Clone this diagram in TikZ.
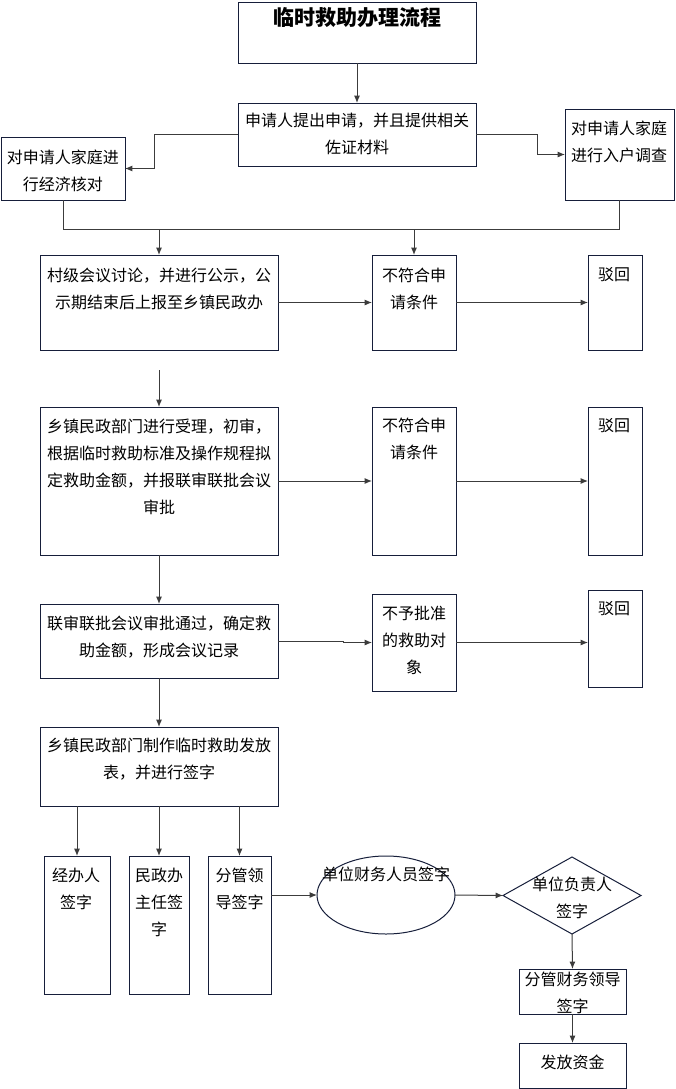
\documentclass[tikz,border=0pt]{standalone}
\usepackage{xcolor}
\usepackage{fontspec}
\usepackage{tikz}
\usetikzlibrary{shapes.geometric,arrows.meta}
\newfontfamily\cjk{Noto Sans CJK SC}
\definecolor{boxline}{RGB}{22,30,58}
\definecolor{arrline}{RGB}{60,60,60}

\begin{document}
\begin{tikzpicture}[x=0.75pt,y=-0.75pt,
    box/.style={draw=boxline,line width=0.75pt,inner sep=0pt,outer sep=0pt},
    txt/.style={font=\cjk\fontsize{12pt}{20.25pt}\selectfont,align=center,inner sep=0pt,text=black},
    arr/.style={draw=arrline,line width=0.75pt,-{Latex[length=5.5pt,width=4.5pt]}},
    ln/.style={draw=arrline,line width=0.75pt}]
    \useasboundingbox (0,0) rectangle (675,1089);

    % boxes
    \node[box,minimum width=178.5pt,minimum height=45.75pt] (title) at (357,32.5) {};
    \node[box,minimum width=178.5pt,minimum height=47.25pt] (apply) at (357,134.5) {};
    \node[box,minimum width=93pt,minimum height=47.25pt] (econ) at (63,168.5) {};
    \node[box,minimum width=81.75pt,minimum height=68.25pt] (survey) at (619.5,154.5) {};

    \node[box,minimum width=178.5pt,minimum height=71.25pt] (vill) at (159,302.5) {};
    \node[box,minimum width=63pt,minimum height=71.25pt] (nq1) at (414,302.5) {};
    \node[box,minimum width=40.5pt,minimum height=71.25pt] (rej1) at (615,302.5) {};

    \node[box,minimum width=178.5pt,minimum height=111pt] (town) at (159,481) {};
    \node[box,minimum width=63pt,minimum height=111pt] (nq2) at (414,481) {};
    \node[box,minimum width=40.5pt,minimum height=111pt] (rej2) at (615,481) {};

    \node[box,minimum width=178.5pt,minimum height=55.5pt] (joint) at (159,641) {};
    \node[box,minimum width=63pt,minimum height=72.75pt] (nap) at (414,642.5) {};
    \node[box,minimum width=40.5pt,minimum height=72.75pt] (rej3) at (615,638.5) {};

    \node[box,minimum width=178.5pt,minimum height=59.25pt] (make) at (159,766.5) {};
    \node[box,minimum width=49.5pt,minimum height=103.5pt] (sign1) at (77,925) {};
    \node[box,minimum width=45pt,minimum height=103.5pt] (sign2) at (159,925) {};
    \node[box,minimum width=47.25pt,minimum height=103.5pt] (sign3) at (239.5,925) {};
    \node[box,shape=ellipse,minimum width=103.5pt,minimum height=58.5pt] (fin) at (386,895) {};
    \node[box,shape=diamond,minimum width=103.5pt,minimum height=57.75pt] (head) at (572,895.5) {};
    \node[box,minimum width=80.25pt,minimum height=33.75pt] (finlead) at (572.5,991.5) {};
    \node[box,minimum width=80.25pt,minimum height=33.75pt] (fund) at (572.5,1065.5) {};

    % texts
    \node[txt,font=\cjk\bfseries\fontsize{15.75pt}{18pt}\selectfont] (title-t) at (357,18) {临时救助办理流程};
    \node[txt] (apply-t) at (357,134) {申请人提出申请，并且提供相关\\佐证材料};
    \node[txt] (econ-t) at (63,170.5) {对申请人家庭进\\行经济核对};
    \node[txt] (survey-t) at (619,141.5) {对申请人家庭\\进行入户调查};
    \node[txt] (vill-t) at (159,288.5) {村级会议讨论，并进行公示，公\\示期结束后上报至乡镇民政办};
    \node[txt] (nq1-t) at (414,288.5) {不符合申\\请条件};
    \node[txt] (rej1-t) at (614,275) {驳回};
    \node[txt] (town-t) at (159,466.5) {乡镇民政部门进行受理，初审，\\根据临时救助标准及操作规程拟\\定救助金额，并报联审联批会议\\审批};
    \node[txt] (nq2-t) at (414,439) {不符合申\\请条件};
    \node[txt] (rej2-t) at (614,426) {驳回};
    \node[txt] (joint-t) at (159,637) {联审联批会议审批通过，确定救\\助金额，形成会议记录};
    \node[txt] (nap-t) at (414,640) {不予批准\\的救助对\\象};
    \node[txt] (rej3-t) at (614,609) {驳回};
    \node[txt] (make-t) at (159,759.5) {乡镇民政部门制作临时救助发放\\表，并进行签字};
    \node[txt] (sign1-t) at (76,888.5) {经办人\\签字};
    \node[txt] (sign2-t) at (159,902) {民政办\\主任签\\字};
    \node[txt] (sign3-t) at (239.5,888.5) {分管领\\导签字};
    \node[txt] (fin-t) at (386,874) {单位财务人员签字};
    \node[txt] (head-t) at (572,898) {单位负责人\\签字};
    \node[txt] (finlead-t) at (572.5,992.5) {分管财务领导\\签字};
    \node[txt] (fund-t) at (572.5,1062) {发放资金};

    % connectors
    \coordinate (busL) at (63,229);
    \coordinate (busR) at (619.5,229);
    \coordinate (vgap) at (159,370);

    \draw[arr] (title) -- (apply);
    \draw[arr] (apply.west) -- ++(-84,0) |- (econ.east);
    \draw[arr] (apply.east) -- ++(61,0) |- (survey.west);
    \draw[ln] (econ.south) -- (busL) -- (busR) -- (survey.south);
    \draw[arr] (busL -| vill.north) -- (vill.north);
    \draw[arr] (busL -| nq1.north) -- (nq1.north);

    \draw[arr] (vill.east) -- (nq1.west);
    \draw[arr] (nq1.east) -- (rej1.west);
    \draw[arr] (vgap) -- (town.north);
    \draw[arr] (town.east) -- (nq2.west);
    \draw[arr] (nq2.east) -- (rej2.west);
    \draw[arr] (town.south) -- (joint.north);
    \draw[arr] (joint.east) -- ++(65,0) |- (nap.west);
    \draw[arr] (nap.east) -- (nap.east -| rej3.west);
    \draw[arr] (joint.south) -- (make.north);

    \draw[arr] (make.south -| sign1.north) -- (sign1.north);
    \draw[arr] (make.south) -- (sign2.north);
    \draw[arr] (make.south -| sign3.north) -- (sign3.north);
    \draw[arr] (sign3.east |- fin.west) -- (fin.west);
    \draw[arr] (fin.east) -- (head.west);
    \draw[arr] (head.south) -- (finlead.north);
    \draw[arr] (finlead.south) -- (fund.north);
\end{tikzpicture}
\end{document}
